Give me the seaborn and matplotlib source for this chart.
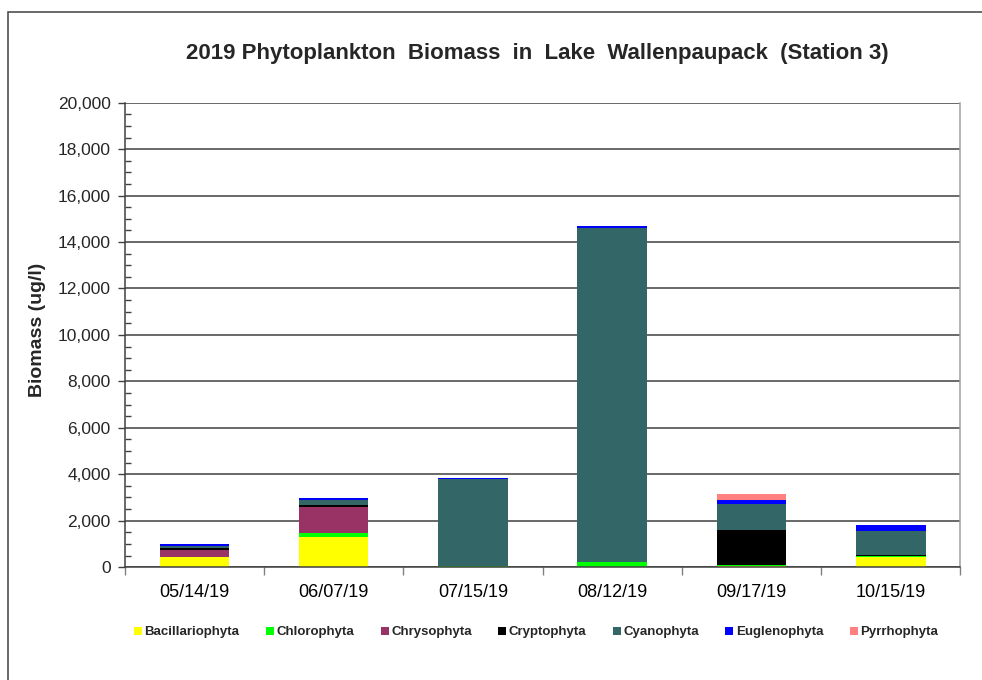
import matplotlib
matplotlib.use("Agg")
import matplotlib.pyplot as plt
import matplotlib.patches as mpatches
from matplotlib.ticker import MultipleLocator, FuncFormatter
import seaborn as sns
import pandas as pd
import numpy as np

# sample dates and groups
dates = ["05/14/19", "06/07/19", "07/15/19", "08/12/19", "09/17/19", "10/15/19"]
groups = ["Bacillariophyta", "Chlorophyta", "Chrysophyta", "Cryptophyta",
          "Cyanophyta", "Euglenophyta", "Pyrrhophyta"]

# biomass (ug/l)
bacillariophyta = [435, 1300, 10, 0, 60, 435]
chlorophyta = [10, 150, 30, 220, 20, 55]
chrysophyta = [310, 1130, 0, 0, 0, 0]
cryptophyta = [60, 100, 0, 0, 1500, 30]
cyanophyta = [80, 205, 3770, 14400, 1130, 1030]
euglenophyta = [90, 100, 30, 80, 190, 250]
pyrrhophyta = [20, 0, 0, 0, 245, 0]

colors = ["#FFFF00", "#00FF00", "#993366", "#000000", "#336666", "#0000FF", "#FF8080"]

series = [bacillariophyta, chlorophyta, chrysophyta, cryptophyta,
          cyanophyta, euglenophyta, pyrrhophyta]
df = pd.DataFrame({"date": dates})
for g, v in zip(groups, series):
    df[g] = v
cum = df[groups].cumsum(axis=1)

sns.set_theme(style="white")
plt.rcParams['font.family'] = ['Liberation Sans', 'DejaVu Sans']

fig = plt.figure(figsize=(9.82, 6.8), dpi=100)
ax = fig.add_axes([0.127, 0.166, 0.851, 0.683])

# draw from top of stack downwards so lower segments sit on top
for g, c in reversed(list(zip(groups, colors))):
    sns.barplot(x=df["date"], y=cum[g], color=c, width=0.5, ax=ax,
                saturation=1, edgecolor="none", linewidth=0)

ax.set_ylim(0, 20000)
ax.set_xlim(-0.5, 5.5)
ax.yaxis.set_major_locator(MultipleLocator(2000))
ax.yaxis.set_minor_locator(MultipleLocator(500))
ax.yaxis.set_major_formatter(FuncFormatter(lambda v, p: f"{int(v):,}"))
ax.grid(axis="y", color="#404040", linewidth=1.1)
ax.set_axisbelow(True)

ax.set_xticks(range(len(dates)))
ax.set_xticklabels(dates)
ax.set_xticks(np.arange(-0.5, 6.0, 1.0), minor=True)
ax.tick_params(axis="x", which="major", length=0, labelsize=13, pad=12, colors="black")
ax.tick_params(axis="x", which="minor", direction="out", length=6, width=1, color="#808080", bottom=True)
ax.tick_params(axis="y", which="major", direction="out", length=5, width=1, color="#404040",
               labelsize=12.5, left=True, pad=5)
ax.tick_params(axis="y", which="minor", direction="in", length=4, width=1, color="#404040", left=True)

ax.set_xlabel("")
ax.set_ylabel("")
ax.spines["top"].set_visible(False)
ax.spines["left"].set_color("#404040")
ax.spines["bottom"].set_color("#404040")
ax.spines["right"].set_color("#a0a0a0")
for s in ax.spines.values():
    s.set_linewidth(1.1)

fig.text(0.547, 0.922, "2019 Phytoplankton  Biomass  in  Lake  Wallenpaupack  (Station 3)",
         ha="center", va="center", fontsize=16, fontweight="bold")
fig.text(0.038, 0.515, "Biomass (ug/l)", rotation=90, ha="center", va="center",
         fontsize=14, fontweight="bold")

handles = [mpatches.Patch(facecolor=c, edgecolor="none", label=g) for g, c in zip(groups, colors)]
fig.legend(handles=handles, loc="center", bbox_to_anchor=(0.546, 0.07), ncol=7, frameon=False,
           prop={"size": 9.5, "weight": "bold"}, handlelength=0.6, handleheight=0.6,
           handletextpad=0.2, columnspacing=2.0)

# outer chart border
fig.patches.append(mpatches.Rectangle((8 / 982, -0.1), 1.2, 1 - 12 / 680 + 0.1,
                                      transform=fig.transFigure, fill=False,
                                      edgecolor="#505050", linewidth=1.2))

fig.savefig("out.png", dpi=100)
